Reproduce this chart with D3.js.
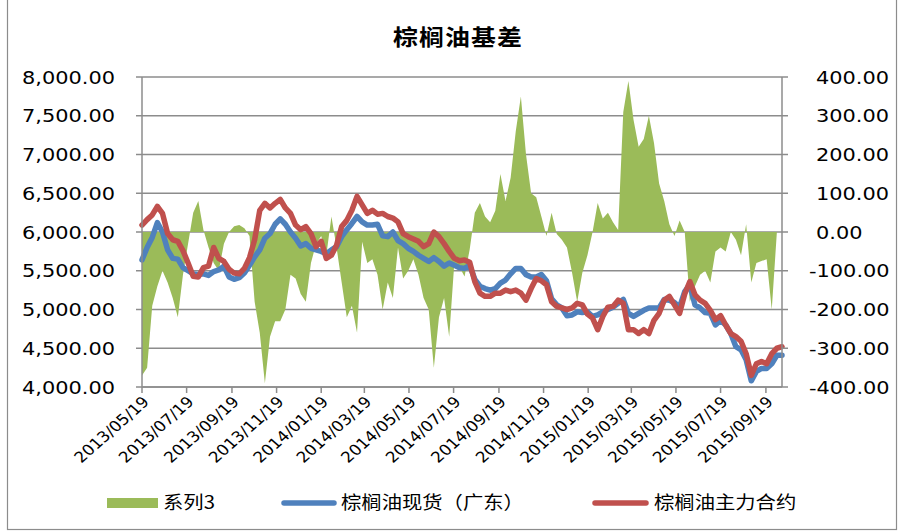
<!DOCTYPE html>
<html>
<head>
<meta charset="utf-8">
<script src="https://cdn.jsdelivr.net/npm/d3@7"></script>
<style>
  html, body { margin: 0; padding: 0; background: #fff; }
  svg { display: block; }
</style>
</head>
<body>
<div id="chart"></div>
<script>
// weekly points, first one on 2013-05-19
var firstDate = "2013-05-19",
    stepDays = 7;

// 棕榈油现货（广东）
var spot = [
  5640, 5800, 5930, 6120, 6000, 5770, 5660, 5650, 5540, 5500,
  5460, 5450, 5460, 5440, 5490, 5510, 5560, 5420, 5390, 5410,
  5470, 5570, 5680, 5770, 5920, 5980, 6100, 6170, 6100, 6000,
  5920, 5820, 5850, 5790, 5770, 5750, 5720, 5770, 5810, 5940,
  6030, 6110, 6200, 6130, 6090, 6090, 6100, 5950, 5940, 6000,
  5890, 5850, 5790, 5750, 5700, 5660, 5620, 5670, 5620, 5560,
  5600, 5570, 5540, 5530, 5570, 5390, 5300, 5270, 5250, 5270,
  5340, 5380, 5460, 5530, 5530, 5450, 5420, 5420, 5450, 5370,
  5140, 5060, 5020, 4920, 4930, 4970, 4960, 4970, 4910, 4930,
  4970, 5000, 5030, 5080, 5130, 4950, 4910, 4950, 4990, 5020,
  5020, 5020, 5130, 5120, 5090, 5030, 5230, 5320, 5060, 5020,
  4960, 4950, 4800, 4860, 4800, 4690, 4520, 4480, 4350, 4080,
  4200, 4240, 4240, 4300, 4410, 4410
];

// 棕榈油主力合约
var futures = [
  6090, 6160, 6220, 6330, 6240, 5980, 5900, 5880, 5760, 5600,
  5430, 5420, 5540, 5560, 5800, 5660, 5620, 5520, 5470, 5460,
  5530, 5670, 5900, 6280, 6370, 6310, 6370, 6420, 6310, 6240,
  6090, 6030, 6070, 5980, 5810, 5880, 5660, 5700, 5830, 6070,
  6150, 6280, 6460, 6350, 6240, 6280, 6230, 6240, 6200, 6180,
  6130, 5980, 5940, 5910, 5880, 5810, 5850, 6000, 5940, 5850,
  5750, 5660, 5630, 5640, 5610, 5360, 5210, 5170, 5170, 5210,
  5210, 5250, 5230, 5250, 5210, 5120, 5270, 5400, 5370, 5320,
  5100, 5040, 5020, 5000, 5020, 5080, 5060, 4940, 4890, 4740,
  4910, 5030, 5040, 5120, 5080, 4740, 4740, 4690, 4740, 4690,
  4860, 4950, 5120, 5170, 5060, 4950, 5200, 5360, 5190, 5120,
  5080, 4990, 4870, 4920, 4800, 4690, 4650, 4590, 4430, 4150,
  4300, 4330, 4300, 4430, 4500, 4520
];

// 系列3 (basis, right axis)
var basis = [
  -370, -350, -190, -140, -100, -130, -170, -220, -110,  -30,
    50,   80,    5,  -40,  -80, -100,  -30,    0,   15,   18,
    10,  -10, -180, -260, -390, -270, -230, -230, -200, -110,
  -120, -160, -180,  -80,  -30,  -10,  -60,   40,  -40, -130,
  -220, -190, -260,  -25,  -80,  -70, -110, -200, -130, -170,
   -40, -120, -100,  -70, -110, -170, -200, -350, -220, -170,
  -270,  -80,  -90, -115,  -45,   50,   75,   40,   25,   55,
   150,   80,  140,  260,  350,  200,  100,   90,   40,  -10,
    50,   -5,  -20,  -40, -105, -180, -105,  -60,    0,   75,
    35,   50,   25,    5,  310,  390,  290,  220,  240,  300,
   230,  125,   80,   20,  -10,   30,    0, -180, -140, -110,
  -100, -130,  -50,  -40,  -50,    0,  -20,  -60,   20, -130,
   -80,  -75,  -70, -200,    0, null
];

var xTickLabels = [
  "2013/05/19", "2013/07/19", "2013/09/19", "2013/11/19", "2014/01/19",
  "2014/03/19", "2014/05/19", "2014/07/19", "2014/09/19", "2014/11/19",
  "2015/01/19", "2015/03/19", "2015/05/19", "2015/07/19", "2015/09/19"
];
var leftTicks = [4000, 4500, 5000, 5500, 6000, 6500, 7000, 7500, 8000];
var rightTicks = [-400, -300, -200, -100, 0, 100, 200, 300, 400];

var title = "棕榈油基差";
var seriesNames = ["系列3", "棕榈油现货（广东）", "棕榈油主力合约"];
var colors = ["#9bbb59", "#4f81bd", "#c0504d"];

(function() {
  'use strict';
  var W = 904, H = 532,
      left = 142, right = 782, top = 77, bottom = 387,
      sx = 1.13;   // the picture is a bit wider than tall glyphs suggest

  var parse = d3.timeParse("%Y-%m-%d"),
      parseTick = d3.timeParse("%Y/%m/%d"),
      d0 = parse(firstDate);

  var data = spot.map(function(v, i) {
    return { date: d3.timeDay.offset(d0, i * stepDays), s: v, f: futures[i], b: basis[i] };
  });

  var x = d3.scaleTime()
    .domain([d0, data[data.length - 1].date])
    .range([left, right]);
  var yL = d3.scaleLinear().domain([4000, 8000]).range([bottom, top]);
  var yR = d3.scaleLinear().domain([-400, 400]).range([bottom, top]);

  var fmt = function(v) { return d3.format(",.2f")(v).replace("\u2212", "-"); };

  var svg = d3.select('#chart').append('svg')
    .attr('width', W)
    .attr('height', H);

  svg.append('rect')
    .attr('x', 7.5).attr('y', -2)
    .attr('width', 889).attr('height', 531.5)
    .attr('fill', '#fff')
    .attr('stroke', '#8c8c8c')
    .attr('stroke-width', 1.2);

  // title
  svg.append('text')
    .attr('transform', 'translate(458,45) scale(' + sx + ',1)')
    .attr('text-anchor', 'middle')
    .style('font-family', '"Noto Sans CJK SC", sans-serif')
    .style('font-weight', 'bold')
    .style('font-size', '22px')
    .style('letter-spacing', '1px')
    .text(title);

  // gridlines
  svg.append('g')
    .selectAll('line')
    .data(leftTicks)
    .enter().append('line')
      .attr('x1', left).attr('x2', right)
      .attr('y1', function(d) { return yL(d); })
      .attr('y2', function(d) { return yL(d); })
      .attr('stroke', '#8c8c8c')
      .attr('stroke-width', 1.5);

  // basis area
  var area = d3.area()
    .defined(function(d) { return d.b != null; })
    .x(function(d) { return x(d.date); })
    .y0(yR(0))
    .y1(function(d) { return yR(d.b); });

  svg.append('path')
    .datum(data)
    .attr('d', area)
    .attr('fill', colors[0]);

  var spotLine = d3.line()
    .x(function(d) { return x(d.date); })
    .y(function(d) { return yL(d.s); });
  var futLine = d3.line()
    .x(function(d) { return x(d.date); })
    .y(function(d) { return yL(d.f); });

  svg.append('path')
    .datum(data)
    .attr('d', spotLine)
    .attr('fill', 'none')
    .attr('stroke', colors[1])
    .attr('stroke-width', 5.5)
    .attr('stroke-linejoin', 'round')
    .attr('stroke-linecap', 'round');

  svg.append('path')
    .datum(data)
    .attr('d', futLine)
    .attr('fill', 'none')
    .attr('stroke', colors[2])
    .attr('stroke-width', 5.5)
    .attr('stroke-linejoin', 'round')
    .attr('stroke-linecap', 'round');

  // axes lines
  var axisColor = '#8c8c8c';
  svg.append('line')
    .attr('x1', left).attr('x2', left).attr('y1', top).attr('y2', bottom)
    .attr('stroke', axisColor).attr('stroke-width', 1.5);
  svg.append('line')
    .attr('x1', right).attr('x2', right).attr('y1', top).attr('y2', bottom)
    .attr('stroke', axisColor).attr('stroke-width', 1.5);
  svg.append('line')
    .attr('x1', left).attr('x2', right).attr('y1', bottom).attr('y2', bottom)
    .attr('stroke', axisColor).attr('stroke-width', 1.5);

  // left axis
  var gl = svg.append('g');
  leftTicks.forEach(function(v) {
    gl.append('line')
      .attr('x1', left - 6).attr('x2', left)
      .attr('y1', yL(v)).attr('y2', yL(v))
      .attr('stroke', axisColor).attr('stroke-width', 1.5);
    gl.append('text')
      .attr('transform', 'translate(115,' + yL(v) + ') scale(' + sx + ',1)')
      .attr('text-anchor', 'end')
      .attr('dy', '0.36em')
      .style('font-family', '"DejaVu Sans", sans-serif')
      .style('font-size', '18.5px')
      .text(fmt(v));
  });

  // right axis
  var gr = svg.append('g');
  rightTicks.forEach(function(v) {
    gr.append('line')
      .attr('x1', right).attr('x2', right + 6)
      .attr('y1', yR(v)).attr('y2', yR(v))
      .attr('stroke', axisColor).attr('stroke-width', 1.5);
    gr.append('text')
      .attr('transform', 'translate(' + (v < 0 ? 809 : 816) + ',' + yR(v) + ') scale(' + sx + ',1)')
      .attr('text-anchor', 'start')
      .attr('dy', '0.36em')
      .style('font-family', '"DejaVu Sans", sans-serif')
      .style('font-size', '18.5px')
      .text(fmt(v));
  });

  // bottom axis
  var gx = svg.append('g');
  xTickLabels.forEach(function(t) {
    var px = x(parseTick(t));
    gx.append('line')
      .attr('x1', px).attr('x2', px)
      .attr('y1', bottom).attr('y2', bottom + 6)
      .attr('stroke', axisColor).attr('stroke-width', 1.5);
    gx.append('text')
      .attr('transform', 'translate(' + (px + 4) + ',' + (bottom + 12) + ') scale(' + sx + ',1) rotate(-45)')
      .attr('text-anchor', 'end')
      .attr('dy', '0.35em')
      .style('font-family', '"DejaVu Sans", sans-serif')
      .style('font-size', '15px')
      .text(t);
  });

  // legend
  var ly = 503;
  var lg = svg.append('g')
    .style('font-family', '"Noto Sans CJK SC", sans-serif')
    .style('font-size', '18px');
  lg.append('rect')
    .attr('x', 107).attr('y', ly - 5)
    .attr('width', 51).attr('height', 10)
    .attr('fill', colors[0]);
  lg.append('line')
    .attr('x1', 284).attr('x2', 334).attr('y1', ly).attr('y2', ly)
    .attr('stroke', colors[1]).attr('stroke-width', 5.5).attr('stroke-linecap', 'round');
  lg.append('line')
    .attr('x1', 595).attr('x2', 646).attr('y1', ly).attr('y2', ly)
    .attr('stroke', colors[2]).attr('stroke-width', 5.5).attr('stroke-linecap', 'round');
  [[163, seriesNames[0]], [341, seriesNames[1]], [654, seriesNames[2]]].forEach(function(p) {
    lg.append('text')
      .attr('transform', 'translate(' + p[0] + ',' + ly + ') scale(' + sx + ',1)')
      .attr('dy', '0.36em')
      .text(p[1]);
  });
})();
</script>
</body>
</html>
